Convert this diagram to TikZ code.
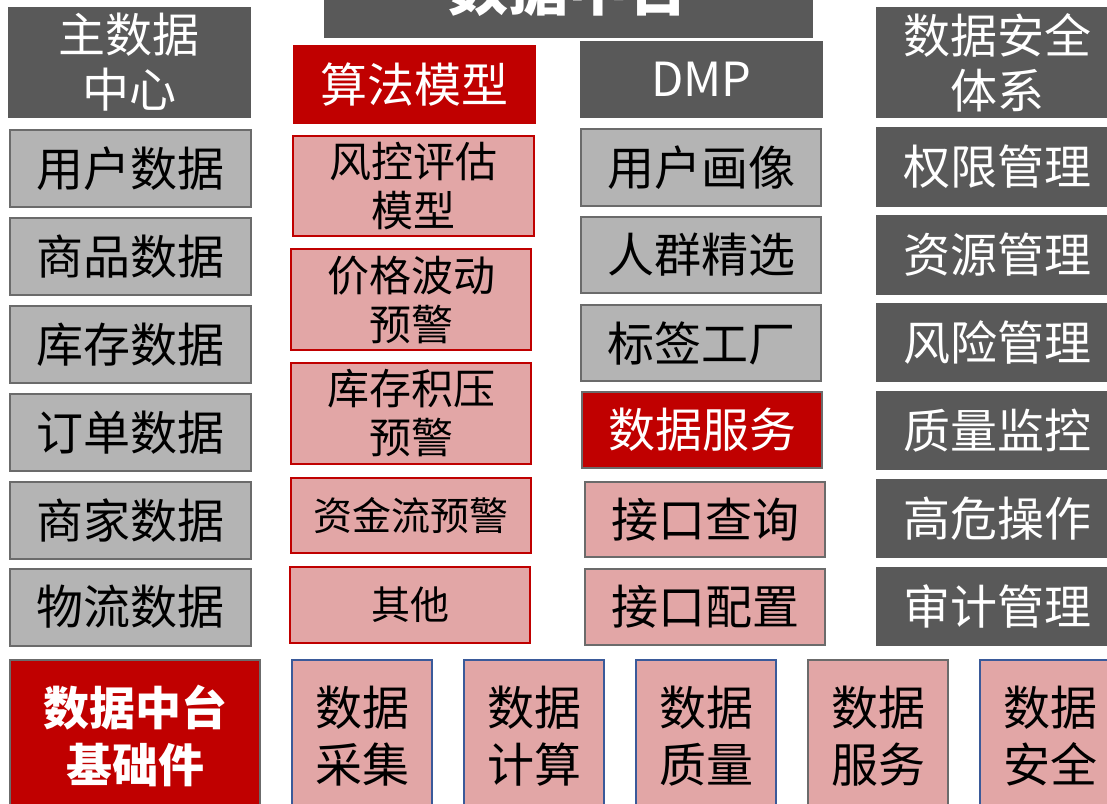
\documentclass[tikz,border=0pt]{standalone}
\usepackage{fontspec}
\setmainfont{Noto Sans CJK SC}
\definecolor{dgray}{HTML}{595959}
\definecolor{lgray}{HTML}{B4B4B4}
\definecolor{bgray}{HTML}{6B6B6B}
\definecolor{mred}{HTML}{C00000}
\definecolor{mpink}{HTML}{E2A6A6}
\definecolor{mblue}{HTML}{3A5A9A}
\tikzset{
  base/.style={rectangle, inner sep=0pt, outer sep=0pt, align=center, line width=2pt},
  darkbox/.style={base, fill=dgray, draw=dgray, text=white},
  lightbox/.style={base, fill=lgray, draw=bgray, text=black},
  redbox/.style={base, fill=mred, draw=mred, text=white},
  redgbox/.style={base, fill=mred, draw=bgray, text=white},
  pinkr/.style={base, fill=mpink, draw=mred, text=black},
  pinkg/.style={base, fill=mpink, draw=bgray, text=black},
  pinkb/.style={base, fill=mpink, draw=mblue, text=black},
  bigf/.style={font=\fontsize{47}{55}\selectfont},
  midf/.style={font=\fontsize{42}{49}\selectfont},
  smallf/.style={font=\fontsize{39}{46}\selectfont},
  colA/.style={minimum width=241pt},
}
\begin{document}
\begin{tikzpicture}[x=1pt,y=-1pt]
\useasboundingbox (0,0) rectangle (1107,803);
\fill[white] (0,0) rectangle (1107,803);
% title
\node[darkbox, minimum width=487pt, minimum height=100pt, font=\bfseries\fontsize{60}{70}\selectfont] (title) at (568.5,-13) {数据中台};
% column 1
\node[darkbox, colA, minimum height=109pt, bigf] (c1h) at (129,62.5) {主数据\\中心};
\node[lightbox, colA, minimum height=77pt, bigf] (c1a) at (130,168.5) {用户数据};
\node[lightbox, colA, minimum height=77pt, bigf] (c1b) at (130,256.5) {商品数据};
\node[lightbox, colA, minimum height=77pt, bigf] (c1c) at (130,344.5) {库存数据};
\node[lightbox, colA, minimum height=77pt, bigf] (c1d) at (130,432.5) {订单数据};
\node[lightbox, colA, minimum height=77pt, bigf] (c1e) at (130,520.5) {商家数据};
\node[lightbox, colA, minimum height=77pt, bigf] (c1f) at (130,607) {物流数据};
% column 2
\node[redbox, colA, minimum height=77pt, bigf] (c2h) at (414,84.5) {算法模型};
\node[pinkr, colA, minimum height=100pt, midf] (c2a) at (413.5,186) {风控评估\\模型};
\node[pinkr, minimum width=240pt, minimum height=101pt, midf] (c2b) at (411,299.5) {价格波动\\预警};
\node[pinkr, minimum width=240pt, minimum height=101pt, midf] (c2c) at (411,413.5) {库存积压\\预警};
\node[pinkr, minimum width=240pt, minimum height=75pt, smallf] (c2d) at (411,515.5) {资金流预警};
\node[pinkr, minimum width=240pt, minimum height=76pt, smallf] (c2e) at (410,605) {其他};
% column 3
\node[darkbox, colA, minimum height=75pt, bigf] (c3h) at (701.5,79.5) {DMP};
\node[lightbox, minimum width=240pt, minimum height=77pt, bigf] (c3a) at (701,167.5) {用户画像};
\node[lightbox, minimum width=240pt, minimum height=76pt, bigf] (c3b) at (701,255) {人群精选};
\node[lightbox, minimum width=240pt, minimum height=76pt, bigf] (c3c) at (701,343) {标签工厂};
\node[redgbox, minimum width=240pt, minimum height=76pt, bigf] (c3d) at (702,430) {数据服务};
\node[pinkg, minimum width=240pt, minimum height=75pt, bigf] (c3e) at (705,519.5) {接口查询};
\node[pinkg, minimum width=240pt, minimum height=76pt, bigf] (c3f) at (705,607) {接口配置};
% column 4
\node[darkbox, minimum width=240pt, minimum height=109pt, bigf] (c4h) at (997,62.5) {数据安全\\体系};
\node[darkbox, minimum width=240pt, minimum height=78pt, bigf] (c4a) at (997,167) {权限管理};
\node[darkbox, minimum width=240pt, minimum height=78pt, bigf] (c4b) at (997,255) {资源管理};
\node[darkbox, minimum width=240pt, minimum height=77pt, bigf] (c4c) at (997,342.5) {风险管理};
\node[darkbox, minimum width=240pt, minimum height=77pt, bigf] (c4d) at (997,430.5) {质量监控};
\node[darkbox, minimum width=240pt, minimum height=77pt, bigf] (c4e) at (997,518.5) {高危操作};
\node[darkbox, minimum width=240pt, minimum height=77pt, bigf] (c4f) at (997,606.5) {审计管理};
% bottom row
\node[redgbox, minimum width=250pt, minimum height=152pt, font=\bfseries\fontsize{46}{57}\selectfont] (b0) at (135,736) {数据中台\\基础件};
\node[pinkb, minimum width=140pt, minimum height=152pt, font=\fontsize{47}{57}\selectfont] (b1) at (362,736) {数据\\采集};
\node[pinkb, minimum width=140pt, minimum height=152pt, font=\fontsize{47}{57}\selectfont] (b2) at (534,736) {数据\\计算};
\node[pinkb, minimum width=140pt, minimum height=152pt, font=\fontsize{47}{57}\selectfont] (b3) at (706,736) {数据\\质量};
\node[pinkg, minimum width=140pt, minimum height=152pt, font=\fontsize{47}{57}\selectfont] (b4) at (878,736) {数据\\服务};
\node[pinkb, minimum width=140pt, minimum height=152pt, font=\fontsize{47}{57}\selectfont] (b5) at (1050,736) {数据\\安全};
\end{tikzpicture}
\end{document}
